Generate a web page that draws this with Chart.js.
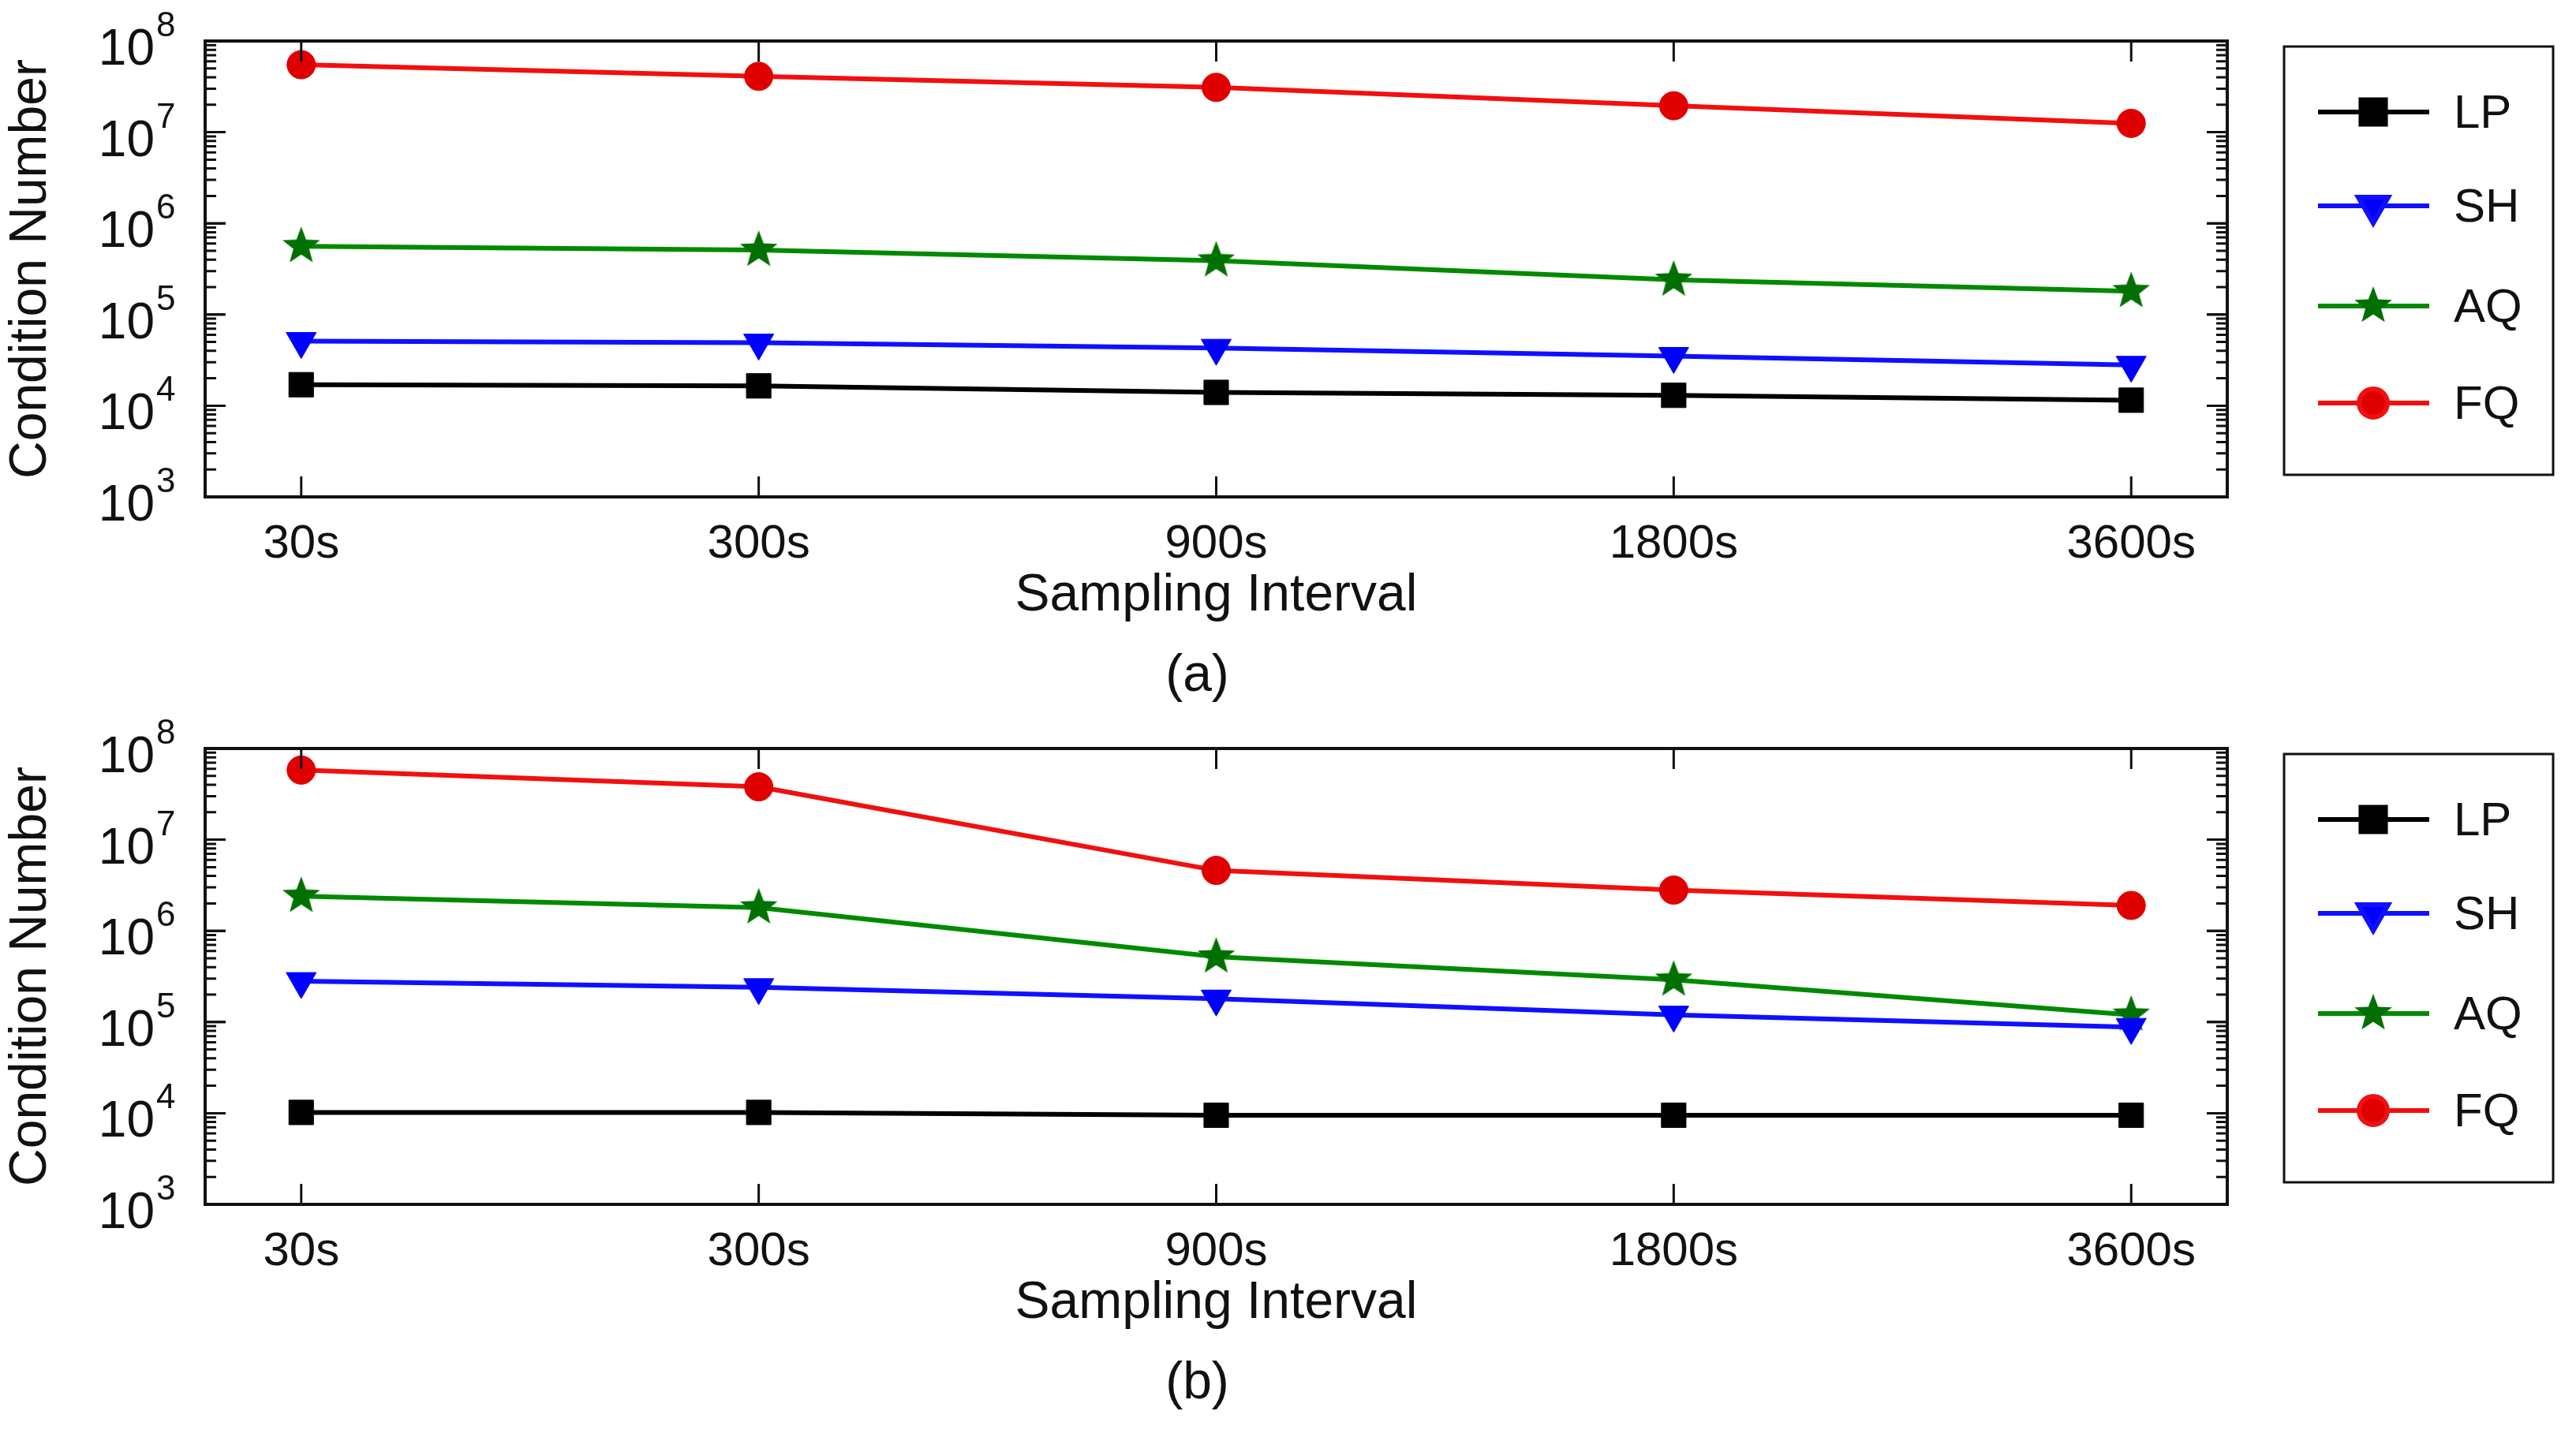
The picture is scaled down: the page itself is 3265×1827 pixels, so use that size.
<!DOCTYPE html>
<html>
<head>
<meta charset="utf-8">
<script src="https://cdn.jsdelivr.net/npm/chart.js@4.4.0/dist/chart.umd.min.js"></script>
<style>
  body { margin: 0; background: #fff; width: 3265px; height: 1827px; position: relative; font-family: "Liberation Sans", Arial, sans-serif; }
  .panel { position: absolute; left: 0; width: 3265px; height: 800px; }
  .cap { position: absolute; width: 3265px; text-align: center; font-size: 66px; color: #111; left: -115px; }
</style>
</head>
<body>
<div class="panel" style="top:0"><canvas id="chartA"></canvas></div>
<div class="cap" style="top:815px">(a)</div>
<div class="panel" style="top:897px"><canvas id="chartB"></canvas></div>
<div class="cap" style="top:1712px">(b)</div>
<script>
const categories = ['30s', '300s', '900s', '1800s', '3600s'];
const seriesNames = ['LP', 'SH', 'AQ', 'FQ'];
const yTickValues = [1e3, 1e4, 1e5, 1e6, 1e7, 1e8];
const yTickExponents = ['3', '4', '5', '6', '7', '8'];

// panel (a)
const lpA = [1.7e4, 1.65e4, 1.4e4, 1.3e4, 1.15e4];
const shA = [5.1e4, 4.9e4, 4.3e4, 3.5e4, 2.8e4];
const aqA = [5.6e5, 5.1e5, 3.9e5, 2.4e5, 1.8e5];
const fqA = [5.5e7, 4.1e7, 3.1e7, 1.95e7, 1.25e7];

// panel (b)
const lpB = [1.02e4, 1.02e4, 9.5e3, 9.5e3, 9.5e3];
const shB = [2.8e5, 2.4e5, 1.8e5, 1.2e5, 8.8e4];
const aqB = [2.4e6, 1.8e6, 5.2e5, 2.9e5, 1.2e5];
const fqB = [5.8e7, 3.8e7, 4.6e6, 2.8e6, 1.9e6];

const lineColors = ['#000000', '#1010ff', '#008a00', '#f01010'];
const fillColors = ['#000000', '#0000ff', '#007000', '#e00000'];

function starImage(color, r) {
  const c = document.createElement('canvas');
  c.width = c.height = r * 2 + 2;
  const g = c.getContext('2d');
  g.fillStyle = color;
  g.beginPath();
  for (let i = 0; i < 10; i++) {
    const rad = i % 2 === 0 ? r : r * 0.42;
    const a = -Math.PI / 2 + i * Math.PI / 5;
    const px = r + 1 + rad * Math.cos(a), py = r + 1 + rad * Math.sin(a);
    i === 0 ? g.moveTo(px, py) : g.lineTo(px, py);
  }
  g.closePath();
  g.fill();
  return c;
}

const star = starImage(fillColors[2], 25);

function makeDatasets(values) {
  const styles = [
    { pointStyle: 'rect', pointRadius: 22, rotation: 0 },
    { pointStyle: 'triangle', pointRadius: 22, rotation: 180 },
    { pointStyle: star, pointRadius: 25, rotation: 0 },
    { pointStyle: 'circle', pointRadius: 18, rotation: 0 }
  ];
  return values.map((vals, i) => ({
    label: seriesNames[i],
    data: vals.map((v, j) => ({ x: j, y: v })),
    borderColor: lineColors[i],
    backgroundColor: fillColors[i],
    pointBackgroundColor: fillColors[i],
    pointBorderColor: fillColors[i],
    borderWidth: 6,
    pointBorderWidth: 1,
    pointStyle: styles[i].pointStyle,
    pointRadius: styles[i].pointRadius,
    rotation: styles[i].rotation,
    tension: 0
  }));
}

// frame, inward ticks, y labels with superscripts and boxed legend
const framePlugin = {
  id: 'frame',
  afterDraw(chart) {
    const { ctx, chartArea: a, scales } = chart;
    const y = scales.y, x = scales.x;
    ctx.save();
    ctx.strokeStyle = '#111';
    ctx.lineWidth = 4;
    ctx.strokeRect(a.left, a.top, a.right - a.left, a.bottom - a.top);
    ctx.lineWidth = 3;
    for (let d = 3; d < 8; d++) {
      for (let m = 1; m <= 10; m++) {
        const v = m * Math.pow(10, d);
        const py = y.getPixelForValue(v);
        const len = (m === 1 || m === 10) ? 26 : 14;
        ctx.beginPath();
        ctx.moveTo(a.left, py); ctx.lineTo(a.left + len, py);
        ctx.moveTo(a.right, py); ctx.lineTo(a.right - len, py);
        ctx.stroke();
      }
    }
    categories.forEach((c, i) => {
      const px = x.getPixelForValue(i);
      ctx.beginPath();
      ctx.moveTo(px, a.bottom); ctx.lineTo(px, a.bottom - 26);
      ctx.moveTo(px, a.top); ctx.lineTo(px, a.top + 26);
      ctx.stroke();
    });
    // y tick labels
    ctx.fillStyle = '#111';
    ctx.textBaseline = 'alphabetic';
    yTickValues.forEach((v, i) => {
      const py = y.getPixelForValue(v);
      ctx.font = '64px "Liberation Sans", Arial, sans-serif';
      ctx.textAlign = 'right';
      ctx.fillText('10', 196, py + 30);
      ctx.font = '44px "Liberation Sans", Arial, sans-serif';
      ctx.textAlign = 'left';
      ctx.fillText(yTickExponents[i], 198, py - 6);
    });
    // legend
    const L = 2895, R = 3236, T = 59, B = 602;
    ctx.lineWidth = 3;
    ctx.strokeRect(L, T, R - L, B - T);
    const rows = [142, 261, 388, 511];
    ctx.font = '60px "Liberation Sans", Arial, sans-serif';
    ctx.textAlign = 'left';
    ctx.textBaseline = 'middle';
    chart.data.datasets.forEach((ds, i) => {
      const ry = rows[i];
      ctx.strokeStyle = ds.borderColor;
      ctx.lineWidth = 6;
      ctx.beginPath(); ctx.moveTo(2938, ry); ctx.lineTo(3079, ry); ctx.stroke();
      ctx.fillStyle = ds.pointBackgroundColor;
      Chart.helpers.drawPoint(ctx, {
        pointStyle: ds.pointStyle, radius: ds.pointRadius, rotation: ds.rotation, borderWidth: 1
      }, 3008, ry);
      ctx.fillStyle = '#111';
      ctx.fillText(ds.label, 3110, ry + 3);
    });
    ctx.restore();
  }
};

function buildChart(id, values) {
  return new Chart(document.getElementById(id), {
    type: 'line',
    data: { datasets: makeDatasets(values) },
    options: {
      responsive: true,
      maintainAspectRatio: false,
      animation: false,
      layout: { padding: { top: 52, right: 442, bottom: 5, left: 0 } },
      plugins: { legend: { display: false }, tooltip: { enabled: false } },
      scales: {
        x: {
          type: 'linear',
          min: -0.21,
          max: 4.21,
          grid: { display: false },
          border: { display: false },
          afterBuildTicks(s) { s.ticks = categories.map((c, i) => ({ value: i })); },
          afterFit(s) { s.height = 165; },
          ticks: {
            color: '#111',
            font: { size: 60, family: '"Liberation Sans", sans-serif' },
            padding: 16,
            callback: (v) => categories[v]
          },
          title: {
            display: true, text: 'Sampling Interval', color: '#111',
            font: { size: 66, family: '"Liberation Sans", sans-serif' }, padding: { top: 0, bottom: 0 }
          }
        },
        y: {
          type: 'logarithmic',
          min: 1e3,
          max: 1e8,
          grid: { display: false },
          border: { display: false },
          afterBuildTicks(s) { s.ticks = yTickValues.map(v => ({ value: v })); },
          afterFit(s) { s.width = 260; },
          ticks: { display: false },
          title: {
            display: true, text: 'Condition Number', color: '#111',
            font: { size: 66, family: '"Liberation Sans", sans-serif' }, padding: { top: 0, bottom: 6 }
          }
        }
      }
    },
    plugins: [framePlugin]
  });
}

buildChart('chartA', [lpA, shA, aqA, fqA]);
buildChart('chartB', [lpB, shB, aqB, fqB]);
</script>
</body>
</html>
